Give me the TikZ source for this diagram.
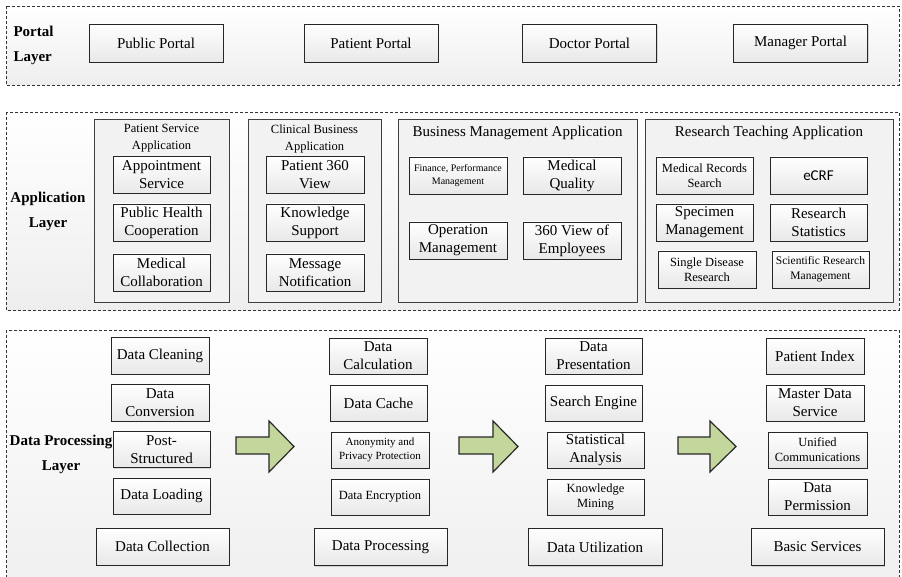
\documentclass[tikz,border=0pt]{standalone}
\usepackage{fontspec}
\setmainfont{Liberation Serif}
\newfontfamily\calfont{Carlito}
\usetikzlibrary{shadows}
\definecolor{flowgreen}{RGB}{195,214,155}
\definecolor{flowedge}{RGB}{40,40,40}
\definecolor{layergray}{RGB}{238,238,238}

\tikzset{
  layer/.style={draw=black!80, line width=0.8pt, dash pattern=on 3pt off 2pt, top color=white, bottom color=layergray},
  layerlabel/.style={font=\bfseries\fontsize{15}{25}\selectfont, align=center},
  group/.style={rectangle, draw=black!75, line width=0.8pt, fill=black!5, inner sep=0pt},
  grouptitle/.style={align=center, font=\fontsize{12.5}{17}\selectfont},
  box/.style={rectangle, draw=black!85, line width=0.8pt, top color=white, bottom color=black!9, inner sep=0pt,
    align=center, font=\fontsize{15}{18}\selectfont,
    drop shadow={shadow xshift=1pt, shadow yshift=-1pt, fill=black!40, opacity=0.35}},
  small/.style={font=\fontsize{12.5}{15}\selectfont},
  smaller/.style={font=\fontsize{11}{14}\selectfont},
  tiny/.style={font=\fontsize{10}{12.5}\selectfont},
  portalbox/.style={box, minimum width=134pt, minimum height=38pt},
  appbox/.style={box, minimum width=97pt, minimum height=37pt},
  databox/.style={box, minimum width=98pt, minimum height=36pt},
  basebox/.style={box, minimum width=133pt, minimum height=37pt},
  flow/.style={line width=1.2pt, line join=miter, fill=flowgreen, draw=flowedge}
}

\begin{document}
\begin{tikzpicture}[x=1pt, y=-1pt]
\useasboundingbox (0,0) rectangle (902,577);
\clip (0,0) rectangle (902,577);

% Portal layer
\draw[layer] (6,6) rectangle (899,85);
\node[layerlabel, align=left, anchor=west] (portallbl) at (10,45) {Portal\\Layer};
\node[portalbox] (pubportal) at (156,43) {Public Portal};
\node[portalbox] (patportal) at (371,43) {Patient Portal};
\node[portalbox] (docportal) at (589.5,43) {Doctor Portal};
\node[portalbox] (mgrportal) at (800.5,43) {Manager Portal};

% Application layer
\draw[layer] (6,112) rectangle (899,310);
\node[layerlabel] (applbl) at (48,211) {Application\\Layer};

\node[group, minimum width=135pt, minimum height=183pt] (patsvc) at (161.5,210.5) {};
\node[grouptitle] (patsvct) at (161.5,138.5) {Patient Service\\Application};
\node[appbox] (appoint) at (161.5,175) {Appointment\\Service};
\node[appbox] (pubhealth) at (161.5,222.5) {Public Health\\Cooperation};
\node[appbox] (medcollab) at (161.5,272.5) {Medical\\Collaboration};

\node[group, minimum width=133pt, minimum height=183pt] (clinbiz) at (314.5,210.5) {};
\node[grouptitle] (clinbizt) at (314.5,138.5) {Clinical Business\\Application};
\node[appbox, minimum width=98pt] (pat360) at (315,175) {Patient 360\\View};
\node[appbox, minimum width=98pt] (knowsup) at (315,222.5) {Knowledge\\Support};
\node[appbox, minimum width=98pt] (msgnote) at (315,272.5) {Message\\Notification};

\node[group, minimum width=239pt, minimum height=183pt] (bizmgmt) at (517.5,210.5) {};
\node[font=\fontsize{15}{18}\selectfont] (bizmgmtt) at (517.5,133) {Business Management Application};
\node[appbox, tiny, minimum width=98pt] (finance) at (458,175.5) {Finance, Performance\\Management};
\node[appbox, minimum width=98pt] (medqual) at (572,175.5) {Medical\\Quality};
\node[appbox, minimum width=98pt] (opmgmt) at (458,240.5) {Operation\\Management};
\node[appbox, minimum width=98pt] (emp360) at (572,240.5) {360 View of\\Employees};

\node[group, minimum width=248pt, minimum height=183pt] (research) at (769,210.5) {};
\node[font=\fontsize{15}{18}\selectfont] (researcht) at (769,133) {Research Teaching Application};
\node[appbox, small] (recsearch) at (704.5,175.5) {Medical Records\\Search};
\node[appbox, font=\calfont\fontsize{15}{18}\selectfont] (ecrf) at (818.5,175.5) {eCRF};
\node[appbox] (specimen) at (704.5,222.5) {Specimen\\Management};
\node[appbox] (resstat) at (818.5,222.5) {Research\\Statistics};
\node[appbox, small, minimum width=98pt] (disease) at (707,269.5) {Single Disease\\Research};
\node[appbox, font=\fontsize{11.5}{15}\selectfont] (resmgmt) at (820.5,269.5) {Scientific Research\\Management};

% Data processing layer
\draw[layer] (6,330) rectangle (899,600);

% column 1
\node[databox, minimum height=37pt] (clean) at (160,355.5) {Data Cleaning};
\node[databox, minimum height=37pt] (convert) at (160,402.5) {Data\\Conversion};
\node[databox, minimum width=97pt] (poststruct) at (161.5,449.5) {Post-\\Structured};
\node[databox, minimum width=97pt] (loading) at (161.5,496) {Data Loading};
\node[basebox] (collect) at (162.5,546.5) {Data Collection};

% column 2
\node[databox] (calc) at (378,356) {Data\\Calculation};
\node[databox, minimum width=97pt] (cache) at (378.5,403) {Data Cache};
\node[databox, smaller] (privacy) at (380,450) {Anonymity and\\Privacy Protection};
\node[databox, small] (encrypt) at (380,497) {Data Encryption};
\node[basebox] (process) at (380.5,547) {Data Processing};

% column 3
\node[databox, minimum width=97pt] (present) at (593.5,356) {Data\\Presentation};
\node[databox, minimum width=97pt] (search) at (593.5,403) {Search Engine};
\node[databox, minimum width=97pt] (stats) at (595.5,450) {Statistical\\Analysis};
\node[databox, minimum width=97pt, small] (mining) at (595.5,497) {Knowledge\\Mining};
\node[basebox, minimum width=134pt] (utilize) at (595,547) {Data Utilization};

% column 4
\node[databox] (patindex) at (815,356) {Patient Index};
\node[databox] (master) at (815,403) {Master Data\\Service};
\node[databox, small, minimum width=99pt] (unified) at (817.5,450) {Unified\\Communications};
\node[databox, minimum width=99pt] (permission) at (817.5,497) {Data\\Permission};
\node[basebox] (basic) at (817.5,547) {Basic Services};

\node[layerlabel] (datalbl) at (61,454.5) {Data Processing\\Layer};

% flow arrows
\path[flow] (236,437) -- ++(33,0) -- ++(0,-16) -- ++(25,25.5) -- ++(-25,25.5) -- ++(0,-18) -- ++(-33,0) -- cycle;
\path[flow] (459,437) -- ++(34,0) -- ++(0,-16) -- ++(25,25.5) -- ++(-25,25.5) -- ++(0,-18) -- ++(-34,0) -- cycle;
\path[flow] (678,437) -- ++(32,0) -- ++(0,-16) -- ++(26,25.5) -- ++(-26,25.5) -- ++(0,-18) -- ++(-32,0) -- cycle;
\end{tikzpicture}
\end{document}
